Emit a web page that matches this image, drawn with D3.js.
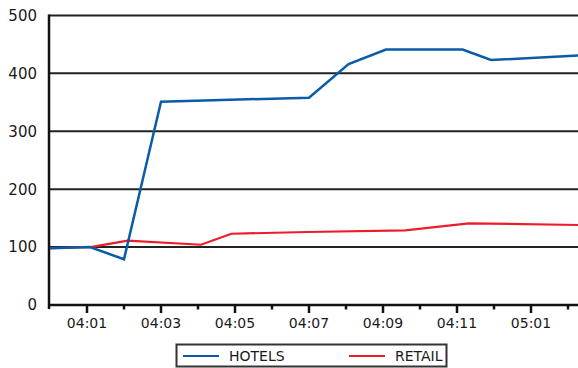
<!DOCTYPE html>
<html>
<head>
<meta charset="utf-8">
<script src="https://cdn.jsdelivr.net/npm/d3@7"></script>
<style>
  body { margin: 0; background: #fff; }
  svg { display: block; font-family: "DejaVu Sans", sans-serif; }
</style>
</head>
<body>
<div id="chart"></div>
<script>
// month ticks, counted from the axis origin (0 = start of chart)
var tickLabels = ["04:01", "04:02", "04:03", "04:04", "04:05", "04:06", "04:07",
                  "04:08", "04:09", "04:10", "04:11", "04:12", "05:01", "05:02"];
var yTicks = [0, 100, 200, 300, 400, 500];

var seriesNames = ["HOTELS", "RETAIL"];
var seriesColors = ["#0a5ca8", "#ec1c2a"];

// readings (month position, value)
var hotelsMonth = [0, 1.08, 2, 3, 7, 8.07, 9.08, 11.15, 11.92, 14.4];
var hotelsValue = [98, 100, 79, 351, 358, 416, 441, 441, 423, 431];

var retailMonth = [0, 1.1, 2.1, 4.08, 4.9, 6.95, 9.6, 11.32, 14.4];
var retailValue = [98, 100, 111, 104, 123, 126, 129, 141, 138];

var width = 578, height = 368;
// note: "top" is taken by window.top, so use plot* names
var plotLeft = 49, plotRight = 605, plotTop = 15.4, plotBottom = 305;

var svg = d3.select("#chart").append("svg")
    .attr("width", width)
    .attr("height", height);

// the plot runs past the right edge of the picture, like the original crop
var x = d3.scaleLinear()
    .domain([0, 15])
    .range([50, plotRight]);

var y = d3.scaleLinear()
    .domain([0, 500])
    .range([plotBottom, plotTop]);

// horizontal grid lines
svg.append("g").selectAll("line")
    .data(yTicks.filter(function(d) { return d > 0; }))
    .enter().append("line")
    .attr("x1", plotLeft)
    .attr("x2", plotRight)
    .attr("y1", function(d) { return y(d); })
    .attr("y2", function(d) { return y(d); })
    .style("stroke", "#222")
    .style("stroke-width", 2);

// y labels
svg.append("g").selectAll("text")
    .data(yTicks)
    .enter().append("text")
    .attr("x", 37)
    .attr("y", function(d) { return y(d); })
    .attr("dy", "0.36em")
    .attr("text-anchor", "end")
    .style("font-size", "15px")
    .style("fill", "#1a1a1a")
    .text(function(d) { return d; });

// x ticks: longer marks under the labelled months
var ticks = svg.append("g").selectAll("g")
    .data(tickLabels)
    .enter().append("g")
    .attr("transform", function(d, i) { return "translate(" + x(i + 1) + ",0)"; });

ticks.append("line")
    .attr("y1", plotBottom)
    .attr("y2", function(d, i) { return i % 2 == 0 ? plotBottom + 8 : plotBottom + 4.5; })
    .style("stroke", "#111")
    .style("stroke-width", 2.5);

ticks.filter(function(d, i) { return i % 2 == 0; })
    .append("text")
    .attr("y", plotBottom + 23)
    .attr("text-anchor", "middle")
    .style("font-size", "14px")
    .style("fill", "#1a1a1a")
    .text(function(d) { return d; });

// axes
svg.append("line")
    .attr("x1", plotLeft).attr("x2", plotLeft)
    .attr("y1", plotTop - 1).attr("y2", plotBottom + 4)
    .style("stroke", "#111")
    .style("stroke-width", 2.5);

svg.append("line")
    .attr("x1", plotLeft - 1).attr("x2", plotRight)
    .attr("y1", plotBottom).attr("y2", plotBottom)
    .style("stroke", "#111")
    .style("stroke-width", 2.5);

var line = d3.line()
    .x(function(d) { return x(d[0]); })
    .y(function(d) { return y(d[1]); });

var series = [
    d3.zip(hotelsMonth, hotelsValue),
    d3.zip(retailMonth, retailValue)
];

// red drawn first so blue sits on top
svg.append("path")
    .datum(series[1])
    .attr("d", line)
    .attr("fill", "none")
    .style("stroke", seriesColors[1])
    .style("stroke-width", 2.2);

svg.append("path")
    .datum(series[0])
    .attr("d", line)
    .attr("fill", "none")
    .style("stroke", seriesColors[0])
    .style("stroke-width", 2.5);

// legend
var legend = svg.append("g");
legend.append("rect")
    .attr("x", 176.5)
    .attr("y", 344.5)
    .attr("width", 270)
    .attr("height", 22)
    .attr("fill", "#fff")
    .style("stroke", "#333")
    .style("stroke-width", 2);

var item = legend.selectAll("g")
    .data(seriesNames)
    .enter().append("g")
    .attr("transform", function(d, i) { return "translate(" + (183 + i * 166) + ",356)"; });

item.append("line")
    .attr("x1", 0).attr("x2", 36)
    .style("stroke", function(d, i) { return seriesColors[i]; })
    .style("stroke-width", 2);

item.append("text")
    .attr("x", 46)
    .attr("dy", "0.36em")
    .style("font-size", "14px")
    .style("fill", "#1a1a1a")
    .text(function(d) { return d; });
</script>
</body>
</html>
